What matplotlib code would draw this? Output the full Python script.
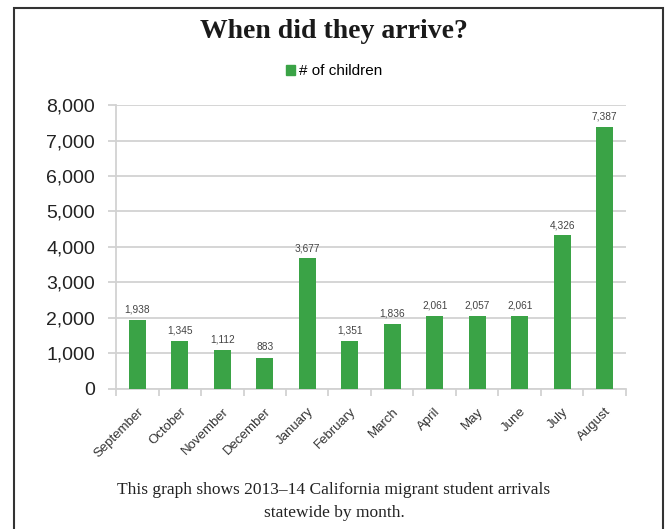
import numpy as np
import matplotlib
matplotlib.use("Agg")
from matplotlib import pyplot as plt
from matplotlib.patches import Rectangle, Patch

months = ["September", "October", "November", "December", "January", "February",
          "March", "April", "May", "June", "July", "August"]
children = [1938, 1345, 1112, 883, 3677, 1351, 1836, 2061, 2057, 2061, 4326, 7387]
yticks = [0, 1000, 2000, 3000, 4000, 5000, 6000, 7000, 8000]

green = "#3aa346"
grid = "#d2d2d2"

fig = plt.figure(figsize=(6.68, 5.29), dpi=100)
ax = fig.add_axes([0.1737, 0.2647, 0.7633, 0.5368])

x = np.arange(len(months))
ax.bar(x, children, width=0.4, color=green, zorder=3, label="# of children")

for xi, v in zip(x, children):
    ax.text(xi, v + 150, f"{v:,}", ha="center", va="bottom", fontsize=7.3,
            color="#444444", family="Liberation Sans")

ax.set_xlim(-0.5, len(months) - 0.5)
ax.set_ylim(0, 8000)
ax.set_yticks(yticks)
ax.set_yticklabels([f"{t:,}" for t in yticks], family="Liberation Sans",
                   fontsize=14, color="#222222")
ax.yaxis.grid(True, color=grid, lw=1.3, zorder=0)
ax.tick_params(axis="y", length=6, color=grid, width=1.3, pad=9)

# x ticks at category boundaries, labels at centres
ax.set_xticks(np.arange(-0.5, len(months) + 0.5, 1.0))
ax.set_xticklabels([])
ax.set_xticks(x, minor=True)
ax.set_xticklabels(months, minor=True, rotation=45, ha="right",
                   rotation_mode="anchor", family="Liberation Sans",
                   fontsize=9.5, color="#333333")
ax.tick_params(axis="x", which="major", length=5, color=grid, width=1.3)
ax.tick_params(axis="x", which="minor", length=0, pad=12)

for s in ["top", "right"]:
    ax.spines[s].set_visible(False)
for s in ["left", "bottom"]:
    ax.spines[s].set_color(grid)
    ax.spines[s].set_linewidth(1.3)

fig.text(0.5, 0.94, "When did they arrive?", ha="center", va="center",
         family="Liberation Serif", fontweight="bold", fontsize=20, color="#1a1a1a")

fig.legend(handles=[Patch(color=green, label="# of children")], loc="center",
           bbox_to_anchor=(0.5, 0.865), frameon=False, handlelength=0.6,
           handleheight=0.6, handletextpad=0.3,
           prop={"family": "Liberation Sans", "size": 11})

fig.text(0.5, 1 - 490 / 529, "This graph shows 2013\u201314 California migrant student arrivals",
         ha="center", va="center", family="Liberation Serif", fontsize=12.5,
         color="#222222")
fig.text(0.5, 1 - 513 / 529, "statewide by month.",
         ha="center", va="center", family="Liberation Serif", fontsize=12.5,
         color="#222222")

fig.patches.append(Rectangle((14 / 668, -0.05), 649 / 668, 1.05 - 8 / 529,
                             transform=fig.transFigure, fill=False,
                             edgecolor="#333333", lw=1.5))

fig.savefig("out.png", dpi=100)
